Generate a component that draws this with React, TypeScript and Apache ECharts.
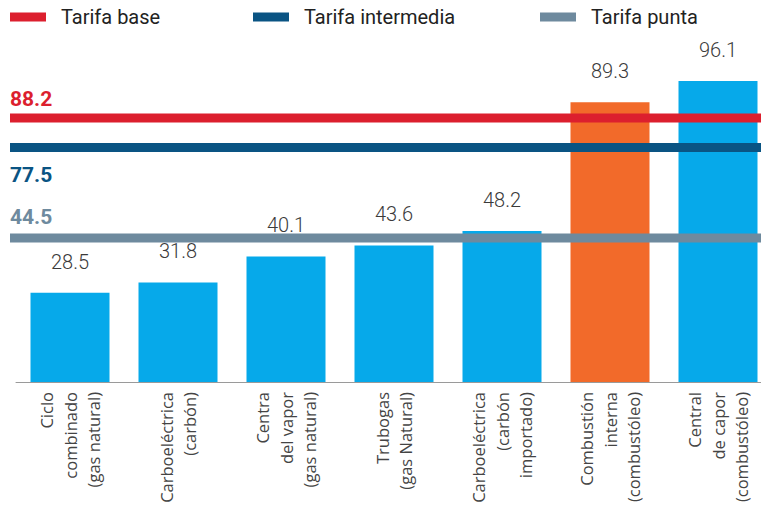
import React, { useEffect, useRef } from "react";
import * as echarts from "echarts";

const categories = [
  "Ciclo\ncombinado\n(gas natural)",
  "Carboeléctrica\n(carbón)",
  "Centra\ndel vapor\n(gas natural)",
  "Trubogas\n(gas Natural)",
  "Carboeléctrica\n(carbón\nimportado)",
  "Combustión\ninterna\n(combustóleo)",
  "Central\nde capor\n(combustóleo)",
];
const costValues = [28.5, 31.8, 40.1, 43.6, 48.2, 89.3, 96.1];
const highlightedCategory = "Combustión\ninterna\n(combustóleo)";

const tariffNames = ["Tarifa base", "Tarifa intermedia", "Tarifa punta"];
const tariffLabels = ["88.2", "77.5", "44.5"];
// line positions as drawn in the picture
const tariffLineValues = [84.3, 74.9, 46.0];

const BAR_BLUE = "#06a9ea";
const BAR_ORANGE = "#f26a2a";
const TARIFF_COLORS = ["#dc1f2e", "#0a5483", "#6e8a9e"];
const LABEL_POS = [
  { position: "top", distance: 8 },
  { position: "bottom", distance: 17 },
  { position: "top", distance: 10 },
];

export default function App() {
  const ref = useRef<HTMLDivElement>(null);
  useEffect(() => {
    if (!ref.current) return;
    const chart = echarts.init(ref.current, null, { renderer: "svg" });
    const legendLefts = [10, 253, 540];
    const option: any = {
      animation: false,
      backgroundColor: "#ffffff",
      legend: tariffNames.map((n, i) => ({
        data: [{ name: n, icon: "rect" }],
        left: legendLefts[i],
        top: 7,
        itemWidth: 36,
        itemHeight: 9,
        padding: 0,
        textStyle: {
          fontFamily: "Roboto",
          fontSize: 20,
          color: "#222",
          padding: [0, 0, 0, 10],
        },
      })),
      grid: [
        { left: 16, width: 756, top: 68.8, bottom: 124, outerBoundsMode: "none", containLabel: false },
        { left: 10, right: 0, top: 68.8, bottom: 124, outerBoundsMode: "none", containLabel: false },
      ],
      xAxis: [
        {
          type: "category",
          gridIndex: 0,
          data: categories,
          axisLine: { lineStyle: { color: "#9a9a9a", width: 1 } },
          axisTick: { show: false },
          axisLabel: {
            rotate: 90,
            interval: 0,
            margin: 10,
            fontFamily: "Open Sans",
            fontSize: 16.5,
            lineHeight: 23.5,
            color: "#444",
            padding: [0, 0, 6, 0],
          },
        },
        { type: "value", gridIndex: 1, min: 0, max: 1, show: false },
      ],
      yAxis: [
        { type: "value", gridIndex: 0, min: 0, max: 100, show: false },
        { type: "value", gridIndex: 1, min: 0, max: 100, show: false },
      ],
      series: [
        {
          type: "bar",
          xAxisIndex: 0,
          yAxisIndex: 0,
          barWidth: 79,
          data: costValues.map((v, i) => ({
            value: v,
            itemStyle: {
              color: categories[i] === highlightedCategory ? BAR_ORANGE : BAR_BLUE,
            },
          })),
          label: {
            show: true,
            position: "top",
            distance: 21,
            fontFamily: "Roboto",
            fontWeight: 300,
            fontSize: 20,
            color: "#3a3a3a",
            formatter: (p: any) => p.value.toFixed(1),
          },
          z: 2,
        },
        ...tariffNames.map((n, i) => ({
          type: "line",
          name: n,
          xAxisIndex: 1,
          yAxisIndex: 1,
          color: TARIFF_COLORS[i],
          symbol: "circle",
          symbolSize: 0,
          showSymbol: true,
          lineStyle: { width: 9, color: TARIFF_COLORS[i] },
          z: 5,
          data: [
            {
              value: [0, tariffLineValues[i]],
              label: {
                show: true,
                position: LABEL_POS[i].position,
                distance: LABEL_POS[i].distance,
                align: "left",
                fontFamily: "Roboto",
                fontWeight: "bold",
                fontSize: 21,
                color: TARIFF_COLORS[i],
                formatter: () => tariffLabels[i],
              },
            },
            [1, tariffLineValues[i]],
          ],
        })),
      ],
    };
    chart.setOption(option);
    return () => chart.dispose();
  }, []);
  return <div ref={ref} style={{ width: 761, height: 506, position: "absolute", left: 0, top: 0 }} />;
}
